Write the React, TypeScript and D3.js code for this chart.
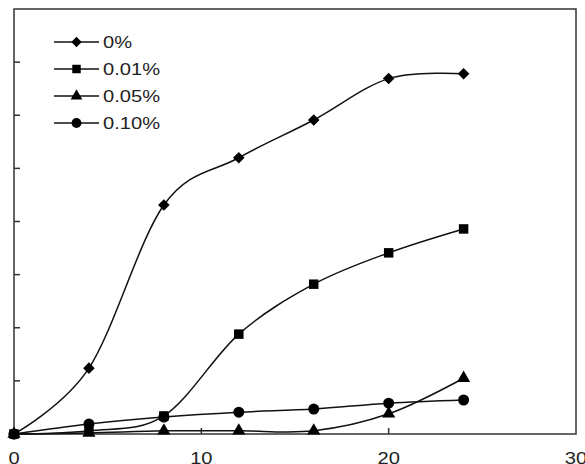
import React, { useEffect, useRef } from 'react';
import * as d3 from 'd3';

// sampling times and the four concentration series
const times = [0, 4, 8, 12, 16, 20, 24];
const seriesNames = ['0%', '0.01%', '0.05%', '0.10%'];
const conc0 = [0, 1.24, 4.31, 5.2, 5.91, 6.69, 6.78];
const conc001 = [0, 0.06, 0.34, 1.88, 2.82, 3.41, 3.86];
const conc005 = [0, 0.02, 0.06, 0.06, 0.06, 0.38, 1.05];
const conc010 = [0, 0.19, 0.32, 0.41, 0.47, 0.58, 0.64];
const xTicks = [0, 10, 20, 30];
const yTicks = [1, 2, 3, 4, 5, 6, 7];

const markerTypes = [d3.symbolDiamond2 || d3.symbolDiamond, d3.symbolSquare, d3.symbolTriangle, d3.symbolCircle];
const markerSizes = [85, 90, 75, 95];

const App = () => {
  const svgRef = useRef<SVGSVGElement>(null);

  useEffect(() => {
    const width = 585;
    const height = 464;
    const margin = { top: 9, right: 9, bottom: 30, left: 14 };

    const svg = d3.select(svgRef.current);
    svg.selectAll('*').remove();

    const x = d3.scaleLinear().domain([0, 30]).range([margin.left, width - margin.right]);
    const y = d3.scaleLinear().domain([0, 8]).range([height - margin.bottom, margin.top]);

    const all = [conc0, conc001, conc005, conc010];

    // plot frame
    svg.append('rect')
      .attr('x', x(0))
      .attr('y', y(8))
      .attr('width', x(30) - x(0))
      .attr('height', y(0) - y(8))
      .attr('fill', 'none')
      .attr('stroke', '#333')
      .attr('stroke-width', 1.5);

    // inward ticks
    svg.append('g')
      .selectAll('line')
      .data(yTicks)
      .join('line')
      .attr('x1', x(0))
      .attr('x2', x(0) + 6)
      .attr('y1', d => y(d))
      .attr('y2', d => y(d))
      .attr('stroke', '#333')
      .attr('stroke-width', 1.5);

    svg.append('g')
      .selectAll('line')
      .data(xTicks.slice(1, -1))
      .join('line')
      .attr('x1', d => x(d))
      .attr('x2', d => x(d))
      .attr('y1', y(0))
      .attr('y2', y(0) - 6)
      .attr('stroke', '#333')
      .attr('stroke-width', 1.5);

    // x tick labels, running off the bottom edge
    svg.append('g')
      .selectAll('text')
      .data(xTicks)
      .join('text')
      .attr('transform', d => `translate(${x(d)},${y(0) + 30}) scale(1.22,1)`)
      .attr('text-anchor', 'middle')
      .attr('font-family', 'Liberation Sans, Arial, sans-serif')
      .attr('font-size', 16.5)
      .attr('fill', '#222')
      .text(d => d);

    const line = d3.line<number>()
      .x((d, i) => x(times[i]))
      .y(d => y(d))
      .curve(d3.curveCardinal.tension(0));

    all.forEach(vals => {
      svg.append('path')
        .datum(vals)
        .attr('d', line)
        .attr('fill', 'none')
        .attr('stroke', '#111')
        .attr('stroke-width', 1.5);
    });

    all.forEach((vals, s) => {
      svg.append('g')
        .selectAll('path')
        .data(vals)
        .join('path')
        .attr('transform', (d, i) => `translate(${x(times[i])},${y(d)})`)
        .attr('d', d3.symbol().type(markerTypes[s]).size(markerSizes[s]))
        .attr('fill', '#000');
    });

    // legend
    const legend = svg.append('g').attr('transform', 'translate(54,42)');
    seriesNames.forEach((name, i) => {
      const row = legend.append('g').attr('transform', `translate(0,${i * 27})`);
      row.append('line')
        .attr('x1', 0)
        .attr('x2', 45)
        .attr('stroke', '#111')
        .attr('stroke-width', 1.5);
      row.append('path')
        .attr('transform', 'translate(22.5,0)')
        .attr('d', d3.symbol().type(markerTypes[i]).size(markerSizes[i] * 0.8))
        .attr('fill', '#000');
      row.append('text')
        .attr('transform', 'translate(49,6) scale(1.22,1)')
        .attr('font-family', 'Liberation Sans, Arial, sans-serif')
        .attr('font-size', 16.5)
        .attr('fill', '#222')
        .text(name);
    });
  }, []);

  return (
    <svg
      ref={svgRef}
      width={585}
      height={464}
      style={{ position: 'absolute', left: 0, top: 0, background: '#fff' }}
    />
  );
};

export default App;
